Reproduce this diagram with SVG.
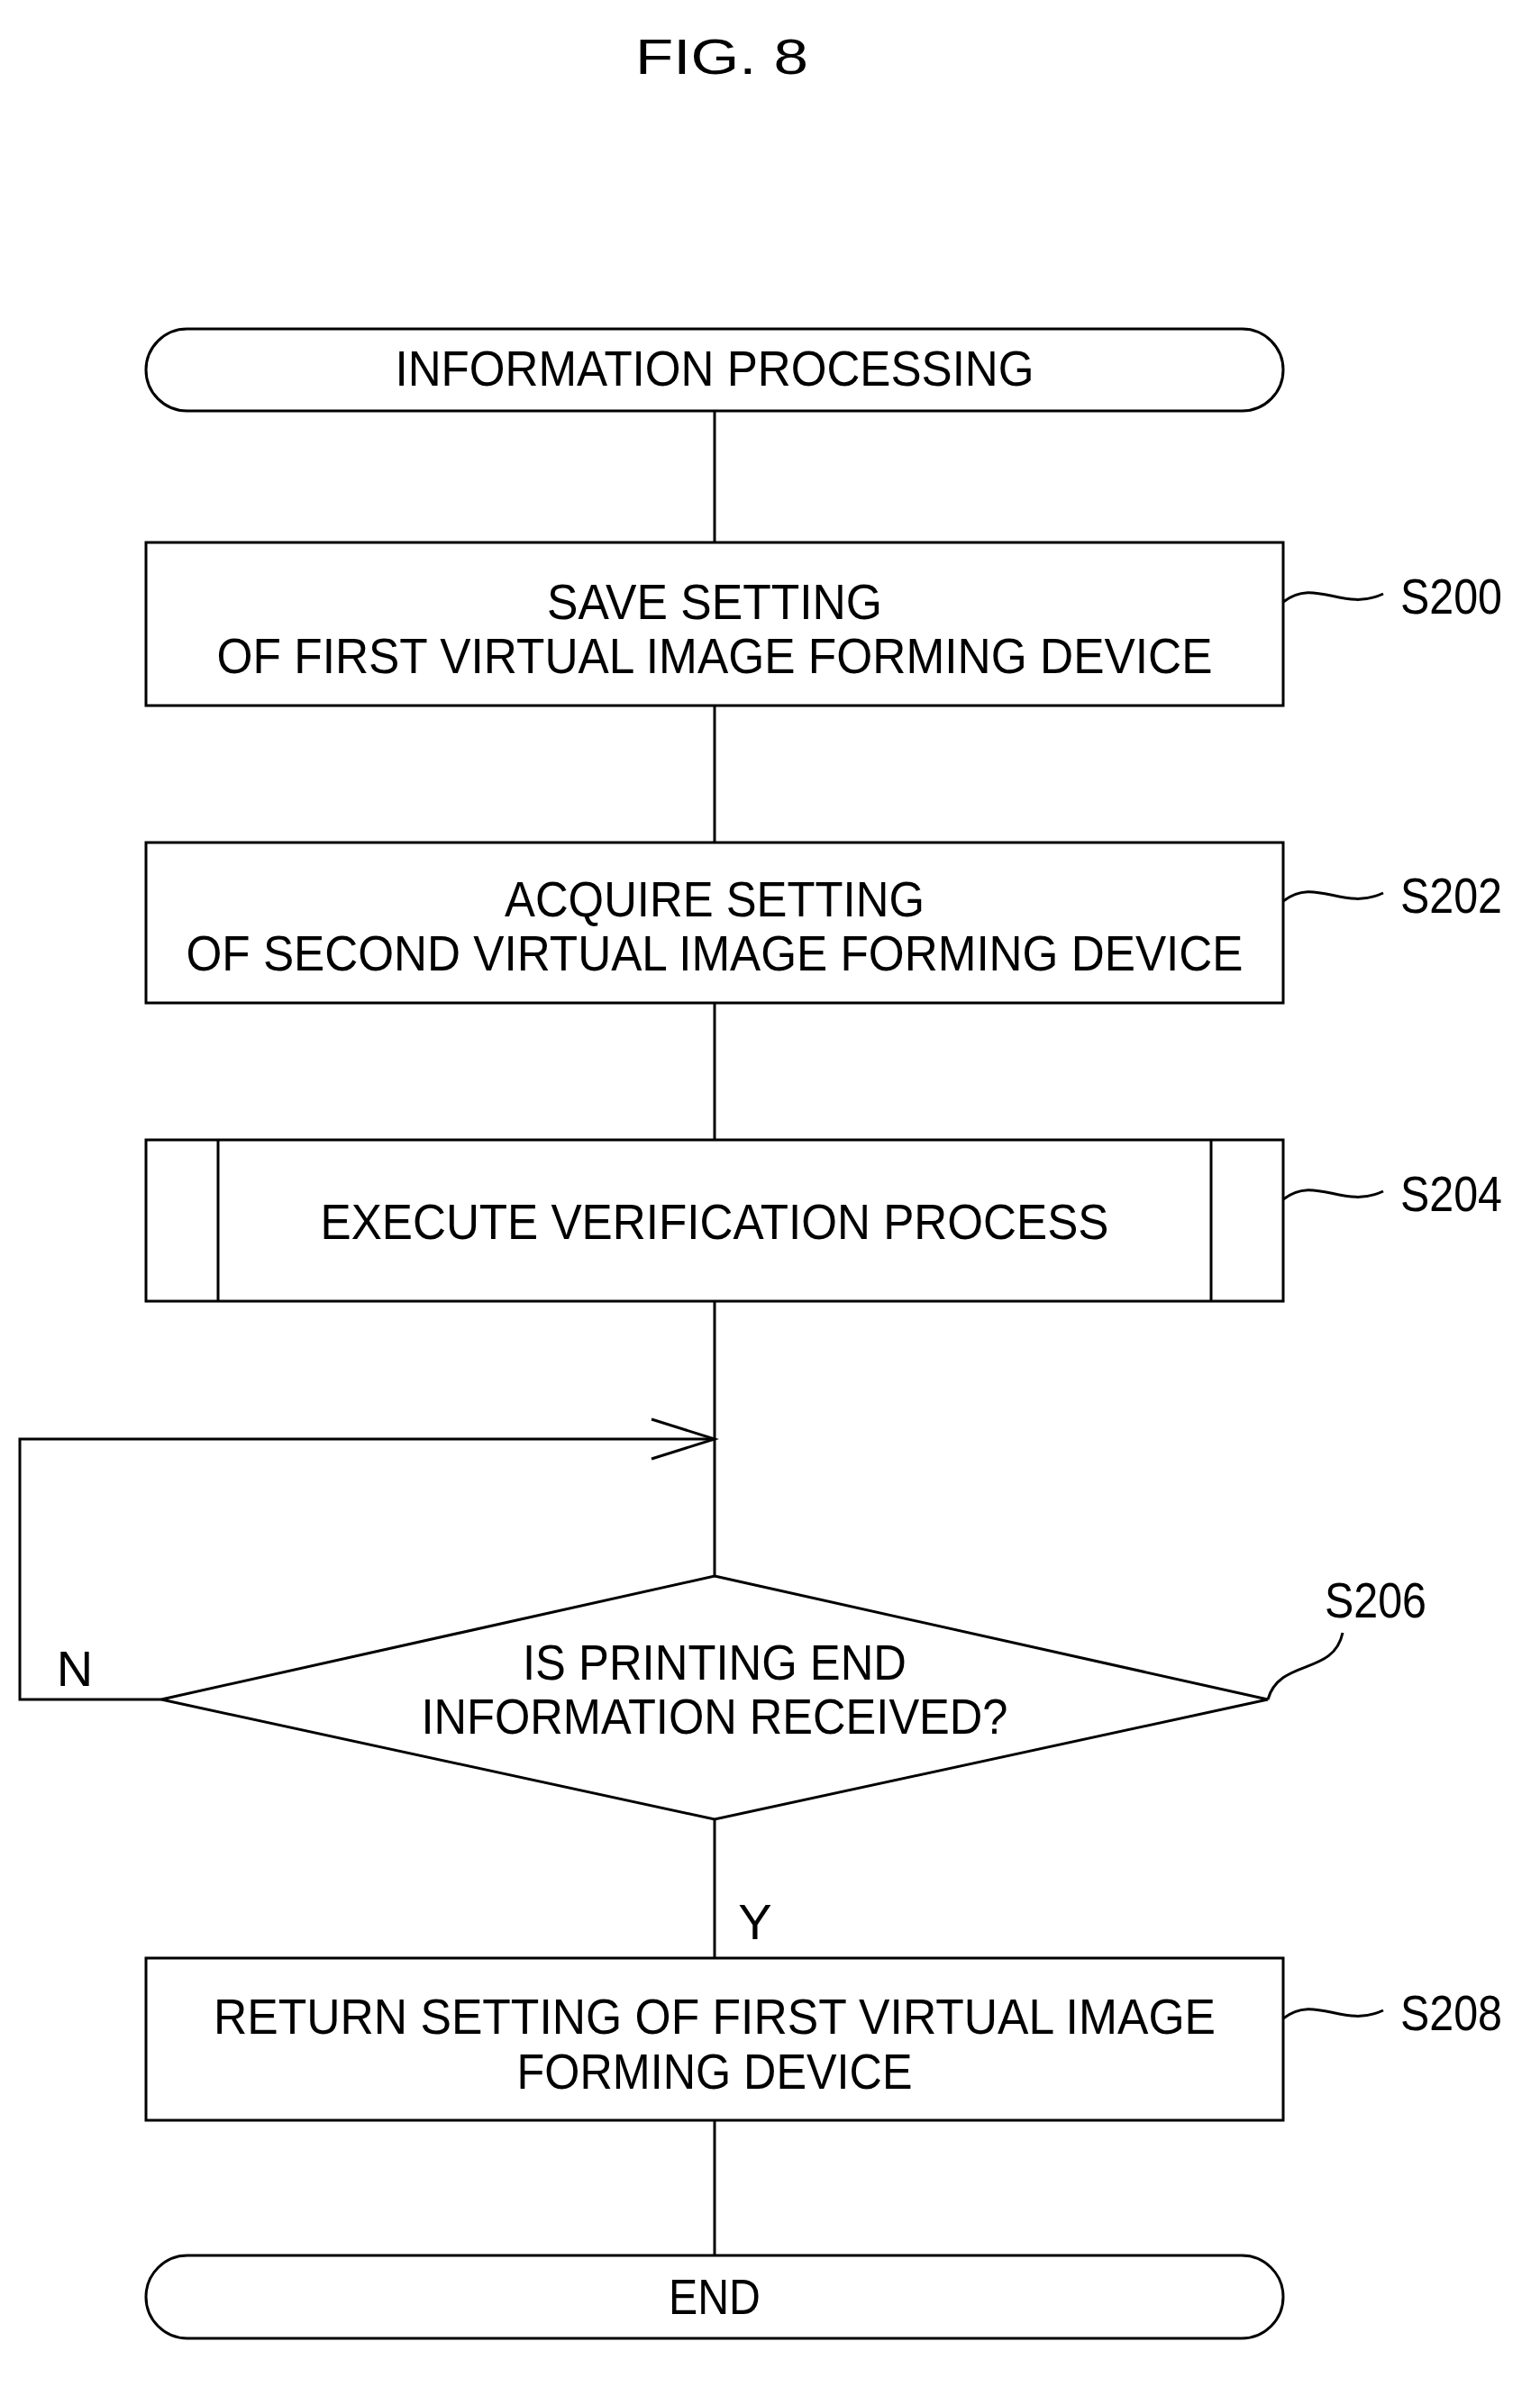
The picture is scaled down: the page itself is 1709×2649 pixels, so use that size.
<svg xmlns="http://www.w3.org/2000/svg" width="1709" height="2649" viewBox="0 0 1709 2649">
<style>
.s{fill:none;stroke:#000;stroke-width:3}
text{font-family:"Liberation Sans",Arial,sans-serif;font-size:56px;fill:#000;text-anchor:middle}
.l{text-anchor:start}
</style>
<rect width="1709" height="2649" fill="#fff"/>
<text x="801" y="82" font-size="72" textLength="192" lengthAdjust="spacingAndGlyphs">FIG. 8</text>
<g id="connectors" class="s">
<line x1="793" y1="456" x2="793" y2="602"/>
<line x1="793" y1="783" x2="793" y2="935"/>
<line x1="793" y1="1113" x2="793" y2="1265"/>
<line x1="793" y1="1444" x2="793" y2="1749"/>
<polyline points="179,1886 22,1886 22,1597 793,1597"/>
<polyline points="723,1575 793,1597 723,1619"/>
<line x1="793" y1="2019" x2="793" y2="2173"/>
<line x1="793" y1="2353" x2="793" y2="2503"/>
</g>
<g id="start"><rect class="s" x="162" y="365" width="1262" height="91" rx="45.5"/><text x="793" y="428" textLength="709" lengthAdjust="spacingAndGlyphs">INFORMATION PROCESSING</text></g>
<g id="S200"><rect class="s" x="162" y="602" width="1262" height="181"/>
<text x="793" y="687" textLength="372" lengthAdjust="spacingAndGlyphs">SAVE SETTING</text>
<text x="793" y="747" textLength="1105" lengthAdjust="spacingAndGlyphs">OF FIRST VIRTUAL IMAGE FORMING DEVICE</text>
<path class="s" d="M1424,668 C1460,640 1490,680 1535,659"/><text class="l" x="1554" y="681" textLength="113" lengthAdjust="spacingAndGlyphs">S200</text></g>
<g id="S202"><rect class="s" x="162" y="935" width="1262" height="178"/>
<text x="793" y="1017" textLength="466" lengthAdjust="spacingAndGlyphs">ACQUIRE SETTING</text>
<text x="793" y="1077" textLength="1173" lengthAdjust="spacingAndGlyphs">OF SECOND VIRTUAL IMAGE FORMING DEVICE</text>
<path class="s" d="M1424,1000 C1460,972 1490,1012 1535,991"/><text class="l" x="1554" y="1013" textLength="113" lengthAdjust="spacingAndGlyphs">S202</text></g>
<g id="S204"><rect class="s" x="162" y="1265" width="1262" height="179"/>
<line class="s" x1="242" y1="1265" x2="242" y2="1444"/><line class="s" x1="1344" y1="1265" x2="1344" y2="1444"/>
<text x="793" y="1375" textLength="875" lengthAdjust="spacingAndGlyphs">EXECUTE VERIFICATION PROCESS</text>
<path class="s" d="M1424,1331 C1460,1303 1490,1343 1535,1322"/><text class="l" x="1554" y="1344" textLength="113" lengthAdjust="spacingAndGlyphs">S204</text></g>
<g id="S206"><polygon class="s" points="793,1749 1407,1886 793,2019 179,1886"/>
<text x="793" y="1864" textLength="426" lengthAdjust="spacingAndGlyphs">IS PRINTING END</text>
<text x="793" y="1924" textLength="651" lengthAdjust="spacingAndGlyphs">INFORMATION RECEIVED?</text>
<path class="s" d="M1407,1886 C1420,1840 1480,1860 1490,1812"/><text class="l" x="1470" y="1795" textLength="113" lengthAdjust="spacingAndGlyphs">S206</text>
<text x="83" y="1871">N</text><text x="838" y="2152">Y</text></g>
<g id="S208"><rect class="s" x="162" y="2173" width="1262" height="180"/>
<text x="793" y="2257" textLength="1112" lengthAdjust="spacingAndGlyphs">RETURN SETTING OF FIRST VIRTUAL IMAGE</text>
<text x="793" y="2318" textLength="439" lengthAdjust="spacingAndGlyphs">FORMING DEVICE</text>
<path class="s" d="M1424,2240 C1460,2212 1490,2252 1535,2231"/><text class="l" x="1554" y="2253" textLength="113" lengthAdjust="spacingAndGlyphs">S208</text></g>
<g id="end"><rect class="s" x="162" y="2503" width="1262" height="92" rx="46"/><text x="793" y="2568" textLength="102" lengthAdjust="spacingAndGlyphs">END</text></g>
</svg>
